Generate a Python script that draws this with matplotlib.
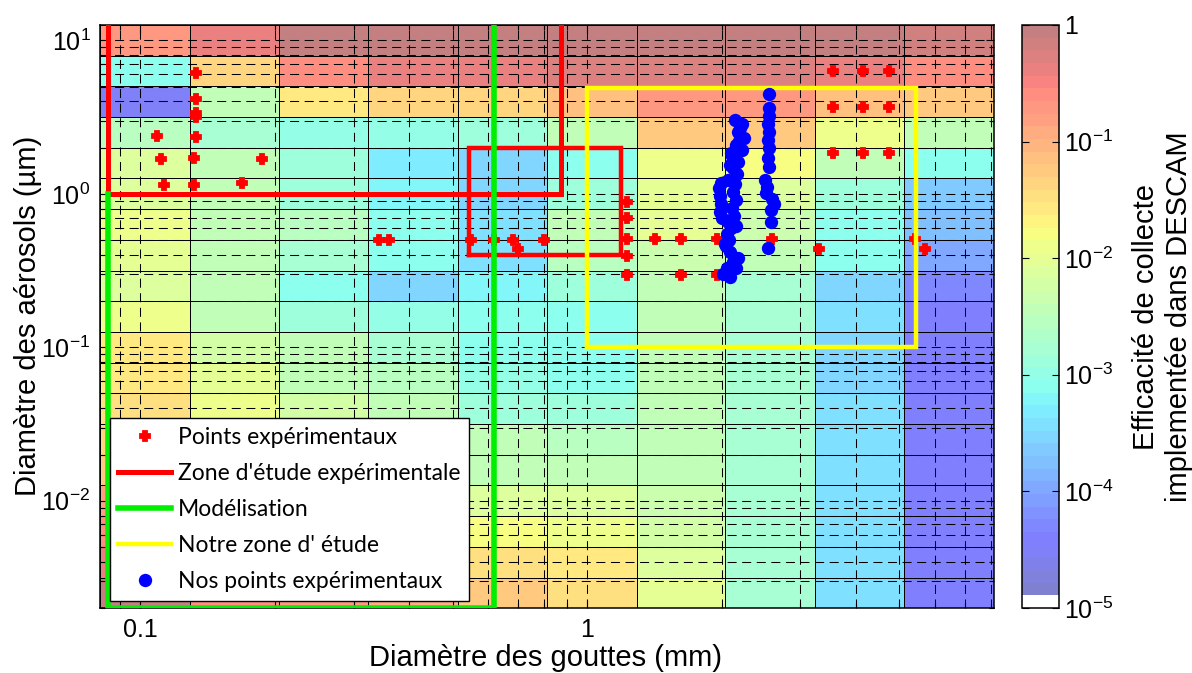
import numpy as np
import matplotlib
matplotlib.use("Agg")
import matplotlib.pyplot as plt
from matplotlib.colors import ListedColormap, LogNorm
from matplotlib.ticker import LogLocator, FuncFormatter, NullFormatter, FixedLocator

plt.rcParams['font.family'] = ['Liberation Sans', 'DejaVu Sans']
plt.rcParams['mathtext.default'] = 'regular'
plt.rcParams['lines.scale_dashes'] = False

# ---- DESCAM bins ----
drop_edges_mm = [0.0813, 0.129, 0.204, 0.324, 0.513, 0.813, 1.29, 2.04, 3.24, 5.13, 8.13]
aerosol_edges_um = [12.6, 7.94, 5.01, 3.16, 2.0, 1.26, 0.794, 0.501, 0.316, 0.2, 0.126,
                    0.0794, 0.0501, 0.0316, 0.02, 0.0126, 0.00794, 0.00501, 0.00316, 0.002]

# log10 of the collection efficiency, one row per aerosol bin (largest first),
# one column per drop bin
log10_efficiency = [
    [-0.70, -0.33, -0.10, -0.10, -0.10, -0.10, -0.10, -0.10, -0.10, -0.12],
    [-3.10, -1.40, -0.60, -0.40, -0.35, -0.30, -0.30, -0.30, -0.40, -0.60],
    [-4.50, -2.50, -1.60, -1.40, -1.40, -1.10, -0.75, -0.75, -1.10, -1.25],
    [-2.60, -2.75, -3.00, -3.00, -2.90, -2.50, -1.30, -1.30, -1.90, -2.40],
    [-2.10, -2.50, -2.90, -3.30, -3.55, -3.10, -1.90, -1.80, -2.45, -3.10],
    [-2.10, -2.50, -2.90, -3.20, -3.50, -2.90, -2.05, -2.15, -2.90, -3.60],
    [-1.90, -2.40, -2.60, -3.10, -3.40, -2.50, -2.05, -2.30, -3.10, -3.75],
    [-2.00, -2.40, -2.75, -3.15, -3.40, -2.60, -2.30, -2.50, -3.15, -4.00],
    [-2.10, -2.50, -3.10, -3.50, -3.20, -2.90, -2.45, -2.75, -3.50, -4.30],
    [-1.88, -2.40, -2.90, -3.00, -3.10, -3.10, -2.40, -2.75, -3.45, -4.40],
    [-1.60, -2.25, -2.50, -2.75, -3.10, -3.10, -2.40, -2.75, -3.50, -4.40],
    [-1.55, -2.00, -2.40, -2.60, -3.00, -3.10, -2.40, -2.75, -3.50, -4.40],
    [-1.50, -1.90, -2.25, -2.50, -2.90, -2.90, -2.40, -2.75, -3.45, -4.40],
    [-1.40, -1.70, -2.00, -2.30, -2.50, -2.60, -2.40, -2.75, -3.45, -4.40],
    [-1.20, -1.50, -1.80, -2.10, -2.40, -2.40, -2.40, -2.75, -3.45, -4.40],
    [-0.80, -1.30, -1.60, -1.90, -2.10, -2.10, -2.35, -2.75, -3.45, -4.40],
    [-0.60, -1.00, -1.30, -1.60, -1.80, -1.90, -2.25, -2.75, -3.45, -4.40],
    [-0.40, -0.80, -1.00, -1.30, -1.50, -1.60, -2.10, -2.75, -3.45, -4.40],
    [-0.10, -0.60, -0.75, -0.90, -1.25, -1.45, -2.05, -2.75, -3.45, -4.40],
]

# ---- published experimental points ----
exp_drop_mm = [0.133, 0.133, 0.133, 0.133, 0.133, 0.109, 0.111, 0.1315, 0.1876, 0.1128,
               0.1315, 0.169, 0.342, 0.361, 0.551, 0.618, 0.681, 0.702, 0.801,
               3.56, 4.15, 4.75, 3.56, 4.15, 4.75, 3.56, 4.15, 4.75,
               1.23, 1.23, 1.23, 1.23, 1.23, 1.42, 1.62, 1.62, 1.95, 1.95, 2.59,
               3.31, 5.42, 5.70]
exp_aerosol_um = [6.15, 4.13, 3.34, 3.15, 2.35, 2.38, 1.68, 1.72, 1.68, 1.14,
                  1.14, 1.18, 0.50, 0.50, 0.50, 0.50, 0.50, 0.434, 0.50,
                  6.31, 6.31, 6.31, 3.69, 3.69, 3.69, 1.85, 1.85, 1.85,
                  0.887, 0.698, 0.505, 0.393, 0.294, 0.505, 0.505, 0.294, 0.505, 0.294, 0.505,
                  0.434, 0.505, 0.434]

# ---- our experimental points ----
our_drop_mm = [2.143, 2.222, 2.177, 2.244, 2.154, 2.222, 2.110, 2.177, 2.121, 2.165,
               2.066, 2.143, 1.973, 2.121, 1.983, 2.154, 1.993, 2.110, 1.983, 2.132,
               2.066, 2.099, 2.056, 2.077, 2.045, 2.088, 2.177, 2.121, 2.056, 2.014, 2.088,
               2.200, 2.190, 2.100, 2.090, 1.990, 2.000, 2.150, 2.040, 2.150,
               2.553, 2.553, 2.553, 2.539, 2.553, 2.539, 2.553, 2.539, 2.553,
               2.500, 2.526, 2.513, 2.593, 2.620, 2.579, 2.579, 2.539]
our_aerosol_um = [3.025, 2.849, 2.527, 2.309, 2.078, 1.928, 1.762, 1.610, 1.472, 1.345,
                  1.229, 1.157, 1.090, 1.026, 0.967, 0.910, 0.857, 0.807, 0.760, 0.716,
                  0.654, 0.598, 0.547, 0.499, 0.456, 0.417, 0.381, 0.359, 0.328, 0.300, 0.287,
                  2.700, 2.200, 1.850, 1.550, 1.180, 0.700, 0.620, 0.470, 0.330,
                  4.47, 3.62, 3.21, 2.849, 2.527, 2.24, 1.99, 1.71, 1.494,
                  1.229, 1.107, 1.011, 0.924, 0.857, 0.783, 0.654, 0.443]

# ---- study zones (corner paths) ----
exp_zone1_x = [0.0846, 0.875, 0.875, 0.0846, 0.0846]
exp_zone1_y = [1.0, 1.0, 20.0, 20.0, 1.0]
exp_zone2_x = [0.543, 1.19, 1.19, 0.543, 0.543]
exp_zone2_y = [0.40, 0.40, 2.0, 2.0, 0.40]
model_zone_x = [0.0846, 0.0846, 0.618, 0.618]
model_zone_y = [1.0, 0.002, 0.002, 20.0]
our_zone_x = [1.0, 5.45, 5.45, 1.0, 1.0]
our_zone_y = [0.10, 0.10, 4.9, 4.9, 0.10]

# colormap: jet seen through 50 % transparency, lowest level white
n_levels = 46
jet = plt.get_cmap('jet')
frac = (np.arange(1, n_levels) + 0.5) / n_levels
rgb = 0.5 + 0.5 * jet(frac)[:, :3]
colors = np.vstack([[1.0, 1.0, 1.0], rgb])
cmap = ListedColormap(colors)
norm = LogNorm(vmin=1e-5, vmax=1.0)

fig = plt.figure(figsize=(11.92, 6.73), dpi=100)
ax = fig.add_axes([0.0841, 0.0966, 0.7495, 0.8663])
cax = fig.add_axes([0.8577, 0.0966, 0.0305, 0.8663])

eff = 10.0 ** np.array(log10_efficiency)
mesh = ax.pcolormesh(drop_edges_mm, aerosol_edges_um, eff, cmap=cmap, norm=norm,
                     edgecolors='black', linewidth=0.7, zorder=1)

ax.set_xscale('log')
ax.set_yscale('log')
ax.set_xlim(drop_edges_mm[0], drop_edges_mm[-1])
ax.set_ylim(aerosol_edges_um[-1], aerosol_edges_um[0])

ax.xaxis.set_major_locator(FixedLocator([0.1, 1.0]))
ax.xaxis.set_minor_locator(LogLocator(base=10, subs=np.arange(2, 10)))
ax.xaxis.set_major_formatter(FuncFormatter(lambda v, p: f"{v:g}"))
ax.xaxis.set_minor_formatter(NullFormatter())
ax.yaxis.set_major_locator(LogLocator(base=10, numticks=10))
ax.yaxis.set_minor_locator(LogLocator(base=10, subs=np.arange(2, 10), numticks=20))
ax.yaxis.set_minor_formatter(NullFormatter())

dash = (0, (6.5, 4.0))
ax.grid(True, which='both', color='black', linestyle=dash, linewidth=0.75)
ax.tick_params(which='both', direction='in', top=True, right=True, labelsize=18)
ax.tick_params(which='major', length=6, width=0.8, pad=7)
ax.tick_params(which='minor', length=3.5, width=0.8)
for s in ax.spines.values():
    s.set_linewidth(1.1)

# markers and zones
h_exp, = ax.plot(exp_drop_mm, exp_aerosol_um, linestyle='none', marker='P', markersize=7,
                 markeredgewidth=1.3, color='#ff0000', zorder=3,
                 label='Points expérimentaux')
h_zone, = ax.plot(exp_zone1_x, exp_zone1_y, color='#ff0000', linewidth=3.6, zorder=4,
                  solid_joinstyle='miter', label="Zone d'étude expérimentale")
ax.plot(exp_zone2_x, exp_zone2_y, color='#ff0000', linewidth=3.2, zorder=4,
        solid_joinstyle='miter')
h_model, = ax.plot(model_zone_x, model_zone_y, color='#00ee00', linewidth=4.0, zorder=5,
                   solid_joinstyle='miter', label='Modélisation')
h_our, = ax.plot(our_zone_x, our_zone_y, color='#ffff00', linewidth=3.2, zorder=6,
                 solid_joinstyle='miter', label="Notre zone d' étude")
h_pts, = ax.plot(our_drop_mm, our_aerosol_um, linestyle='none', marker='o', markersize=9.6,
                 markeredgewidth=0, color='#0000ff', zorder=7,
                 label='Nos points expérimentaux')

leg = ax.legend(handles=[h_exp, h_zone, h_model, h_our, h_pts], loc='lower left',
                bbox_to_anchor=(0.0106, 0.0125), borderaxespad=0, fancybox=False,
                framealpha=1, edgecolor='black', numpoints=1,
                prop={'family': ['Lato', 'DejaVu Sans'], 'size': 16.5},
                labelspacing=0.66, borderpad=0.37, handlelength=2.3, handletextpad=0.3)
leg.get_frame().set_linewidth(1.0)
leg.set_zorder(10)

# colorbar
cb = fig.colorbar(mesh, cax=cax)
cb.set_ticks([1e-5, 1e-4, 1e-3, 1e-2, 1e-1, 1.0])
cb.set_ticklabels(['$10^{-5}$', '$10^{-4}$', '$10^{-3}$', '$10^{-2}$', '$10^{-1}$', '1'])
cax.minorticks_off()
cax.tick_params(direction='in', left=True, right=True, length=5, width=0.8,
                labelsize=18, pad=4)
cb.outline.set_linewidth(1.1)

# axis titles
fig.text(545.5 / 1192, 1 - 666 / 673, 'Diamètre des gouttes (mm)', fontsize=21,
         ha='center', va='baseline')
fig.text(36 / 1192, 1 - 316 / 673, 'Diamètre des aérosols (µm)', fontsize=21,
         rotation=90, rotation_mode='anchor', ha='center', va='baseline')
fig.text(1154 / 1192, 1 - 317 / 673, 'Efficacité de collecte', fontsize=21,
         rotation=90, rotation_mode='anchor', ha='center', va='baseline')
fig.text(1187 / 1192, 1 - 317 / 673, 'implementée dans DESCAM', fontsize=21,
         rotation=90, rotation_mode='anchor', ha='center', va='baseline')

fig.savefig('out.png', dpi=100)
